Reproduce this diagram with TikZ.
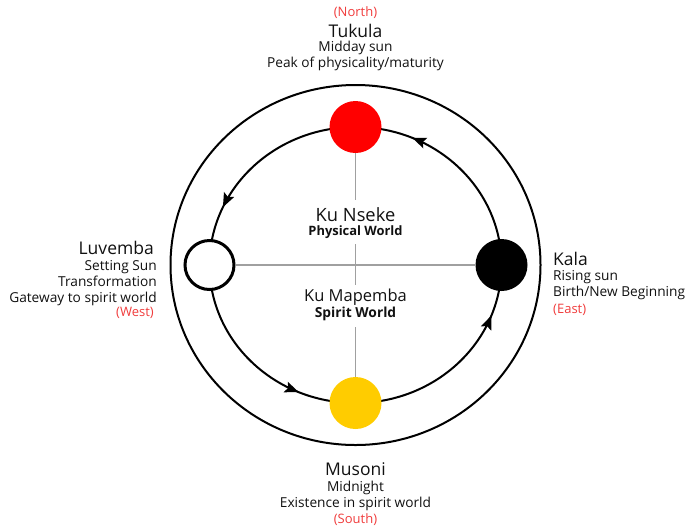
\documentclass[tikz,border=0pt]{standalone}
\usepackage{fontspec}
\setmainfont{Open Sans}
\usetikzlibrary{arrows.meta,decorations.markings}
\definecolor{sunred}{HTML}{FF0000}
\definecolor{sunyellow}{HTML}{FFCC00}
\definecolor{dirred}{HTML}{F03C3C}
\definecolor{axisgray}{HTML}{A0A0A0}
\definecolor{inkgray}{HTML}{111111}
\tikzset{
  sun/.style={circle, minimum size=52pt, inner sep=0pt},
  axisline/.style={draw=axisgray, line width=1.6pt},
  ringline/.style={draw=black, line width=2pt},
  titletext/.style={font=\fontsize{17.5}{19}\selectfont, inner sep=0pt, text=inkgray},
  bodytext/.style={font=\fontsize{13.7}{16}\selectfont, inner sep=0pt, text=inkgray},
  dirtext/.style={font=\fontsize{13}{16}\selectfont, inner sep=0pt, text=dirred},
  worldtext/.style={inner sep=0pt, anchor=base, text=inkgray},
  flowtip/.style={},
  flowarrows/.style={decoration={markings,
      mark=at position 0.185 with {\arrow{Stealth[length=14pt,width=11pt,inset=2.5pt]}},
      mark=at position 0.433 with {\arrow{Stealth[length=14pt,width=11pt,inset=2.5pt]}},
      mark=at position 0.685 with {\arrow{Stealth[length=14pt,width=11pt,inset=2.5pt]}},
      mark=at position 0.942 with {\arrow{Stealth[length=14pt,width=11pt,inset=2.5pt]}}},
    postaction={decorate}}
}
\begin{document}
\begin{tikzpicture}[x=1pt,y=-1pt]
\useasboundingbox (0,0) rectangle (700,531);
\coordinate (c) at (355.5,265);
% outer ring
\draw[ringline] (c) ellipse [x radius=185, y radius=180];
% inner cycle with arrows (counterclockwise on screen)
\draw[ringline, flowarrows] (c) ++(146,0) arc [start angle=360, end angle=0, x radius=146, y radius=138];
% four suns
\node[sun, fill=sunred] (N) at (355.5,127) {};
\node[sun, fill=sunyellow] (S) at (355.5,403) {};
\node[sun, fill=black] (E) at (501.5,265) {};
\node[sun, fill=white, draw=black, line width=3pt, minimum size=49pt] (W) at (209.5,265) {};
% centre labels
\node[worldtext, font=\fontsize{18.3}{20}\selectfont] (nseke) at (355.5,221) {Ku Nseke};
\node[worldtext, font=\fontsize{12.9}{14}\selectfont\bfseries] (physical) at (355.5,235.7) {Physical World};
\node[worldtext, font=\fontsize{16.5}{18}\selectfont] (mapemba) at (355.5,301) {Ku Mapemba};
\node[worldtext, font=\fontsize{13.8}{15}\selectfont\bfseries] (spirit) at (355.5,317.7) {Spirit World};
% axes (vertical axis interrupted around the centre labels)
\coordinate (gapA) at (355.5,200);
\coordinate (gapB) at (355.5,244);
\coordinate (gapC) at (355.5,285);
\coordinate (gapD) at (355.5,327);
\draw[axisline] (W) -- (E);
\draw[axisline] (N) -- (gapA);
\draw[axisline] (gapB) -- (gapC);
\draw[axisline] (gapD) -- (S);
% north
\node[dirtext] (northdir) at (355.5,13) {(North)};
\node[titletext] (tukula) at (355.5,31) {Tukula};
\node[bodytext, align=center] (tukulabody) at (355.5,56) {Midday sun\\Peak of physicality/maturity};
% west
\node[titletext, anchor=east] (luvemba) at (154,248) {Luvemba};
\node[bodytext, align=right, anchor=east] (luvembabody) at (157,283) {Setting Sun\\Transformation\\Gateway to spirit world};
\node[dirtext, anchor=east] (westdir) at (154,313) {(West)};
% east
\node[titletext, anchor=west] (kala) at (553,259) {Kala};
\node[bodytext, align=left, anchor=west] (kalabody) at (553,285) {Rising sun\\Birth/New Beginning};
\node[dirtext, anchor=west] (eastdir) at (553,310) {(East)};
% south
\node[titletext] (musoni) at (355.5,469) {Musoni};
\node[bodytext, align=center] (musonibody) at (355.5,495.5) {Midnight\\Existence in spirit world};
\node[dirtext] (southdir) at (355.5,520) {(South)};
\end{tikzpicture}
\end{document}
